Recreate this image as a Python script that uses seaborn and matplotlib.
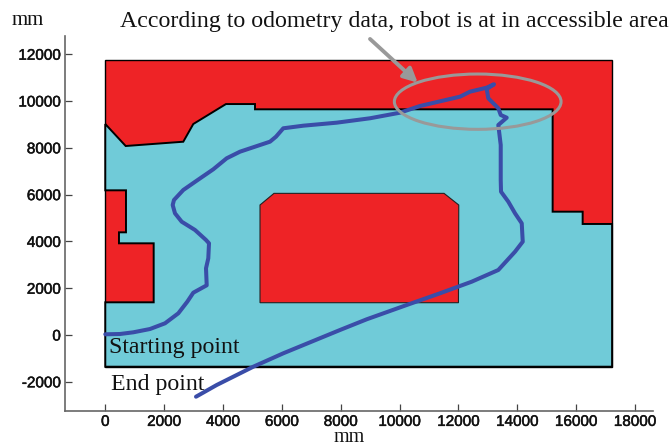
import matplotlib
matplotlib.use("Agg")
import matplotlib.pyplot as plt
import matplotlib.patheffects as pe
from matplotlib.patches import Polygon, Ellipse, Rectangle
import seaborn as sns
import pandas as pd

free_x = [0, 693, 2650, 2990, 4100, 5087, 5087, 15200, 15200, 16220, 16220, 17220, 17220, 0, 0, 1644, 1644, 465, 465, 703, 703, 0]
free_y = [9017, 8077, 8260, 9017, 9870, 9870, 9645, 9645, 5270, 5270, 4745, 4745, -1355, -1355, 1397, 1397, 3918, 3918, 4388, 4388, 6183, 6183]
island_x = [5257, 5732, 11510, 12010, 12000, 5257]
island_y = [5556, 6053, 6053, 5556, 1380, 1380]
path_x = [0, 500, 951, 1519, 2029, 2481, 2786, 2990, 3446, 3422, 3500, 3524, 3422, 3048, 2596, 2368, 2290, 2334, 2650, 3106, 3670, 4125, 4577, 5597, 5800, 6048, 6728, 7863, 8995, 10014, 10694, 12053, 12393, 12960, 13208, 12960, 13014, 13354, 13436, 13640, 13354, 13436, 13436, 13446, 13694, 13922, 14150, 14184, 13922, 13354, 12450, 11373, 10242, 8882, 7975, 6048, 5029, 3785, 3082]
path_y = [30, 43, 115, 256, 500, 927, 1423, 1808, 2124, 2851, 3278, 3919, 4060, 4488, 4842, 5201, 5556, 5770, 6197, 6595, 7082, 7552, 7834, 8262, 8475, 8834, 8945, 9074, 9262, 9501, 9787, 10185, 10399, 10570, 10715, 10514, 10117, 9689, 9403, 9288, 8975, 8121, 6625, 6125, 5697, 5201, 4774, 3988, 3560, 2778, 2278, 1782, 1282, 671, 214, -782, -1355, -2137, -2637]
xticks = [0, 2000, 4000, 6000, 8000, 10000, 12000, 14000, 16000, 18000]
yticks = [-2000, 0, 2000, 4000, 6000, 8000, 10000, 12000]

RED, CYAN, BLUE, GREY = "#EE2326", "#70CBD8", "#3A4DA8", "#999999"
SERIF = ["Liberation Serif", "DejaVu Serif"]

sns.set_theme(style="ticks")
plt.rcParams["axes.unicode_minus"] = False
W, H = 672, 446
fig = plt.figure(figsize=(W / 100, H / 100), dpi=100)
ax = fig.add_axes([65 / W, 1 - 410.7 / H, (652.7 - 65) / W, (410.7 - 36) / H])

ax.add_patch(Rectangle((0, -1355), 17220, 13095, fc=RED, ec="black", lw=1))
ax.add_patch(Polygon(list(zip(free_x, free_y)), closed=True, fc=CYAN, ec="black", lw=1.4, joinstyle="miter"))
ax.add_patch(Polygon(list(zip(island_x, island_y)), closed=True, fc=RED, ec="#222222", lw=0.8))

df = pd.DataFrame({"x": path_x, "y": path_y})
sns.lineplot(data=df, x="x", y="y", sort=False, estimator=None, color=BLUE, lw=2.9, ax=ax, zorder=5)

ax.add_patch(Ellipse((12654, 9971), 5664, 2364, fc="none", ec=GREY, lw=2.2, zorder=6))
ax.annotate("", xy=(10616, 10783), xytext=(8995, 12651), annotation_clip=False, zorder=7,
            arrowprops=dict(arrowstyle="-|>,head_length=0.7,head_width=0.35", color=GREY, lw=2.8,
                            shrinkA=0, shrinkB=0))

ax.set_xlim(-1369, 18600)
ax.set_ylim(-3235, 12778)
ax.set_xticks(xticks)
ax.set_yticks(yticks)
ax.set_xlabel("")
ax.set_ylabel("")
ax.tick_params(direction="in", length=5, width=0.9, color="#444444", labelcolor="#111111", pad=3)
for lab in ax.get_xticklabels() + ax.get_yticklabels():
    lab.set_fontfamily("Liberation Sans")
    lab.set_fontsize(11)
    lab.set_path_effects([pe.withStroke(linewidth=0.35, foreground="#111111")])
sns.despine(ax=ax)
for s in ("left", "bottom"):
    ax.spines[s].set_color("#666666")
    ax.spines[s].set_linewidth(1.2)

ax.text(110, -782, "Starting point", family=SERIF, fontsize=17.2, va="baseline", color="#111111", zorder=8)
ax.text(190, -2350, "End point", family=SERIF, fontsize=17.2, va="baseline", color="#111111", zorder=8)
fig.text(120 / W, 1 - 27 / H, "According to odometry data, robot is at in accessible area", family=SERIF, fontsize=17.2, va="baseline", color="#111111")
fig.text(12 / W, 1 - 25 / H, "mm", family=SERIF, fontsize=15, va="baseline", color="#111111")
fig.text(349 / W, 1 - 442 / H, "mm", family=SERIF, fontsize=14.5, va="baseline", ha="center", color="#111111")

fig.savefig("out.png", dpi=100)
